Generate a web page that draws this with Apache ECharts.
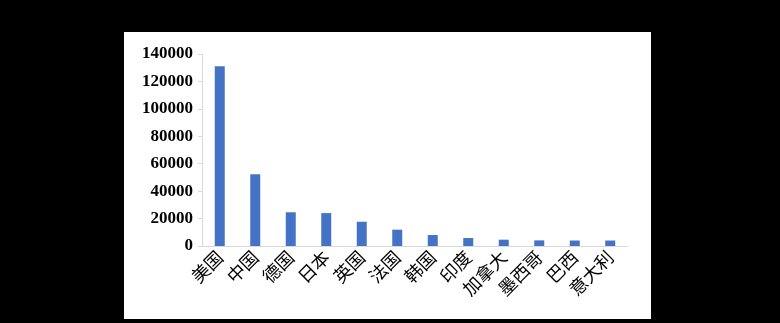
<!DOCTYPE html>
<html><head><meta charset="utf-8">
<script src="https://cdn.jsdelivr.net/npm/echarts@6/dist/echarts.min.js"></script>
<style>html,body{margin:0;padding:0;background:#000;}#c{width:780px;height:323px;}</style>
</head><body><div id="c"></div>
<script>
const categories = ['美国','中国','德国','日本','英国','法国','韩国','印度','加拿大','墨西哥','巴西','意大利'];
const values = [131000, 52300, 24600, 24000, 17700, 11900, 8000, 5800, 4600, 4100, 4000, 4000];
const yTicks = {min: 0, max: 140000, interval: 20000};

const chart = echarts.init(document.getElementById('c'));
chart.setOption({
  backgroundColor: '#000',
  animation: false,
  graphic: [{type: 'rect', z: -10, shape: {x: 124, y: 32, width: 527, height: 287}, style: {fill: '#fff'}}],
  grid: {left: 202, right: 152, top: 54, bottom: 77},
  xAxis: {
    type: 'category', data: categories,
    axisLine: {lineStyle: {color: '#d9d9d9', width: 1}},
    axisTick: {show: false},
    axisLabel: {rotate: 45, interval: 0, margin: 8, color: '#000', fontSize: 18, fontFamily: 'Noto Sans CJK SC'}
  },
  yAxis: {
    type: 'value', min: yTicks.min, max: yTicks.max, interval: yTicks.interval,
    axisLine: {show: true, lineStyle: {color: '#d9d9d9'}},
    axisTick: {show: true, length: 4, lineStyle: {color: '#d9d9d9'}},
    splitLine: {show: false},
    axisLabel: {color: '#000', fontSize: 17, fontWeight: 'bold', fontFamily: 'Liberation Serif', margin: 9,
      formatter: v => String(v)}
  },
  series: [{type: 'bar', data: values, barWidth: 10, itemStyle: {color: '#4472c4'}}]
});
</script></body></html>
